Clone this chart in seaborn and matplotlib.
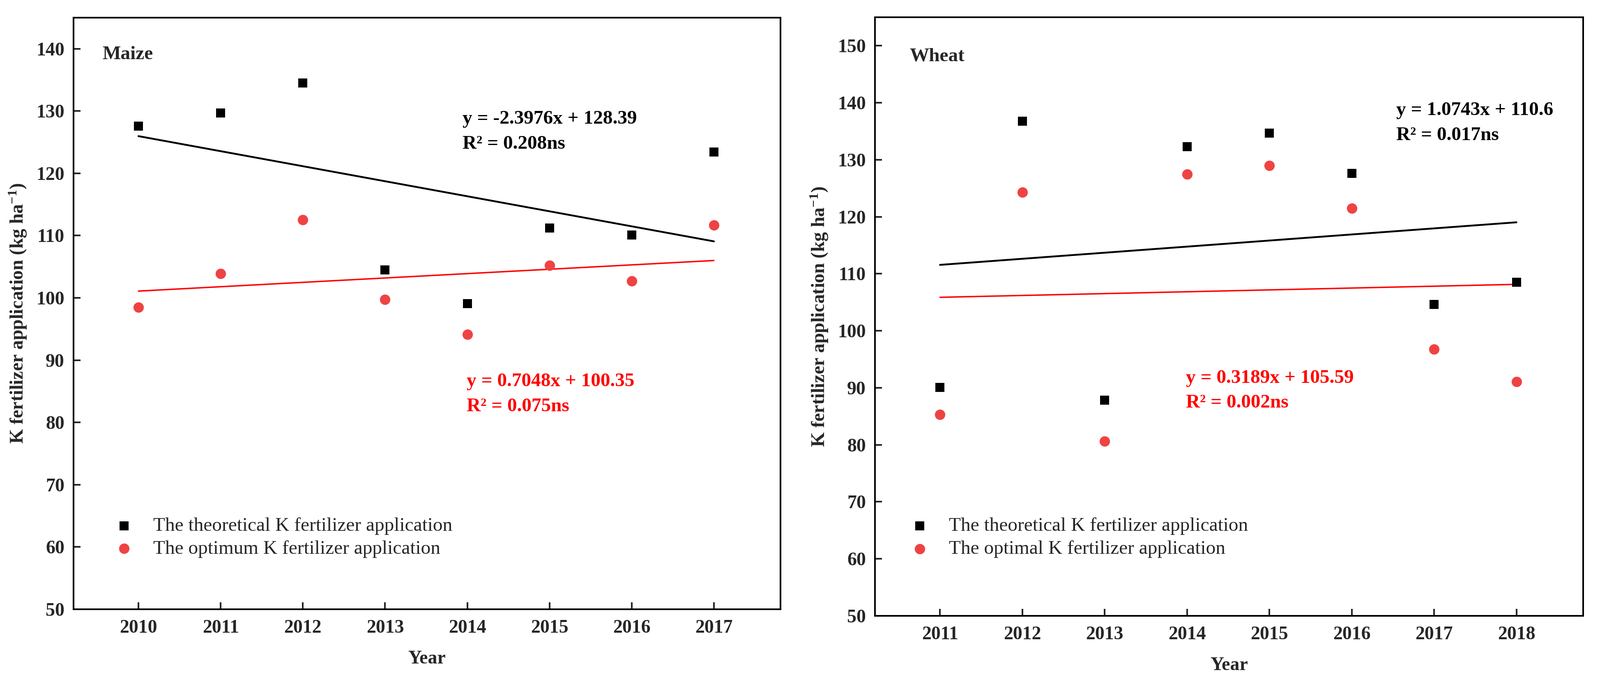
import numpy as np
import pandas as pd
import matplotlib
matplotlib.use("Agg")
import matplotlib.pyplot as plt
import seaborn as sns

# ---------------- data ----------------
maize_years = [2010, 2011, 2012, 2013, 2014, 2015, 2016, 2017]
maize_theoretical = [127.6, 129.7, 134.5, 104.5, 99.1, 111.2, 110.1, 123.4]
maize_optimum = [98.5, 103.9, 112.5, 99.7, 94.1, 105.2, 102.7, 111.7]

wheat_years = [2011, 2012, 2013, 2014, 2015, 2016, 2017, 2018]
wheat_theoretical = [90.1, 136.8, 87.8, 132.3, 134.7, 127.6, 104.6, 108.5]
wheat_optimal = [85.3, 124.3, 80.6, 127.5, 129.0, 121.5, 96.8, 91.1]

maize_eq_black = ["y = -2.3976x + 128.39", "R² = 0.208ns"]
maize_eq_red = ["y = 0.7048x + 100.35", "R² = 0.075ns"]
wheat_eq_black = ["y = 1.0743x + 110.6", "R² = 0.017ns"]
wheat_eq_red = ["y = 0.3189x + 105.59", "R² = 0.002ns"]

maize_labels = ["The theoretical K fertilizer application", "The optimum K fertilizer application"]
wheat_labels = ["The theoretical K fertilizer application", "The optimal K fertilizer application"]

# ---------------- style ----------------
sns.set_style("ticks")
plt.rcParams["font.family"] = ["Liberation Serif", "DejaVu Serif"]
plt.rcParams["mathtext.fontset"] = "custom"
plt.rcParams["mathtext.rm"] = "Liberation Serif"
plt.rcParams["mathtext.bf"] = "Liberation Serif:bold"
plt.rcParams["mathtext.it"] = "Liberation Serif:italic"

BLACK = "#000000"
RED_PT = "#EF4343"
RED_LN = "#FF0000"
TICK_FS = 33
TXT_FS = 34

fig = plt.figure(figsize=(38.95, 16.43), dpi=100)
ax1 = fig.add_axes([0.04596, 0.09738, 0.44185, 0.87663])
ax2 = fig.add_axes([0.54685, 0.08764, 0.44262, 0.88679])


def panel(ax, years, theo, opt, labels, eq_b, eq_r, name, ylim, yticks,
          name_pos, eqb_pos, eqr_pos, leg_anchor):
    sns.scatterplot(x=years, y=theo, ax=ax, marker="s", color=BLACK, s=235,
                    linewidth=0, label=labels[0], zorder=3)
    sns.scatterplot(x=years, y=opt, ax=ax, marker="o", color=RED_PT, s=330,
                    linewidth=0, label=labels[1], zorder=3)
    sns.regplot(x=years, y=theo, ax=ax, scatter=False, ci=None, truncate=True,
                color=BLACK, line_kws=dict(linewidth=3.2, zorder=2))
    sns.regplot(x=years, y=opt, ax=ax, scatter=False, ci=None, truncate=True,
                color=RED_LN, line_kws=dict(linewidth=2.5, zorder=2))

    ax.set_xlim(years[0] - 0.79, years[-1] + 0.81)
    ax.set_ylim(*ylim)
    ax.set_xticks(years)
    ax.set_xticklabels([str(y) for y in years])
    ax.set_yticks(yticks)
    ax.tick_params(axis="both", direction="in", length=12.5, width=2.9,
                   labelsize=TICK_FS, top=False, right=False)
    ax.tick_params(axis="x", pad=18)
    ax.tick_params(axis="y", pad=16)
    for lab in ax.get_xticklabels() + ax.get_yticklabels():
        lab.set_fontweight("bold")
    for sp in ax.spines.values():
        sp.set_linewidth(2.9)
        sp.set_color("black")
        sp.set_visible(True)

    ax.set_xlabel("Year", fontsize=TICK_FS, fontweight="bold", labelpad=24)
    ax.set_ylabel(r"K fertilizer application (kg ha$^{\mathbf{-1}}$)",
                  fontsize=TICK_FS, fontweight="bold", labelpad=14)

    ax.text(name_pos[0], name_pos[1], name, transform=ax.transAxes,
            fontsize=TXT_FS, fontweight="bold", ha="left", va="baseline")
    ax.text(eqb_pos[0], eqb_pos[1], eq_b[0], transform=ax.transAxes,
            fontsize=TXT_FS, fontweight="bold", ha="left", va="baseline", color=BLACK)
    ax.text(eqb_pos[0], eqb_pos[2], eq_b[1], transform=ax.transAxes,
            fontsize=TXT_FS, fontweight="bold", ha="left", va="baseline", color=BLACK)
    ax.text(eqr_pos[0], eqr_pos[1], eq_r[0], transform=ax.transAxes,
            fontsize=TXT_FS, fontweight="bold", ha="left", va="baseline", color=RED_LN)
    ax.text(eqr_pos[0], eqr_pos[2], eq_r[1], transform=ax.transAxes,
            fontsize=TXT_FS, fontweight="bold", ha="left", va="baseline", color=RED_LN)

    ax.legend(loc="center left", bbox_to_anchor=leg_anchor, frameon=False,
              fontsize=TXT_FS, handlelength=1.0, handletextpad=1.0,
              labelspacing=0.27, borderpad=0, borderaxespad=0)


panel(ax1, maize_years, maize_theoretical, maize_optimum, maize_labels,
      maize_eq_black, maize_eq_red, "Maize", (50, 145), list(range(50, 141, 10)),
      (0.0407, 0.930), (0.550, 0.821, 0.778), (0.556, 0.377, 0.335),
      (0.0578, 0.1212))
panel(ax2, wheat_years, wheat_theoretical, wheat_optimal, wheat_labels,
      wheat_eq_black, wheat_eq_red, "Wheat", (50, 155), list(range(50, 151, 10)),
      (0.0487, 0.9266), (0.736, 0.837, 0.795), (0.439, 0.389, 0.348),
      (0.0496, 0.1307))

fig.savefig("out.png", dpi=100)
